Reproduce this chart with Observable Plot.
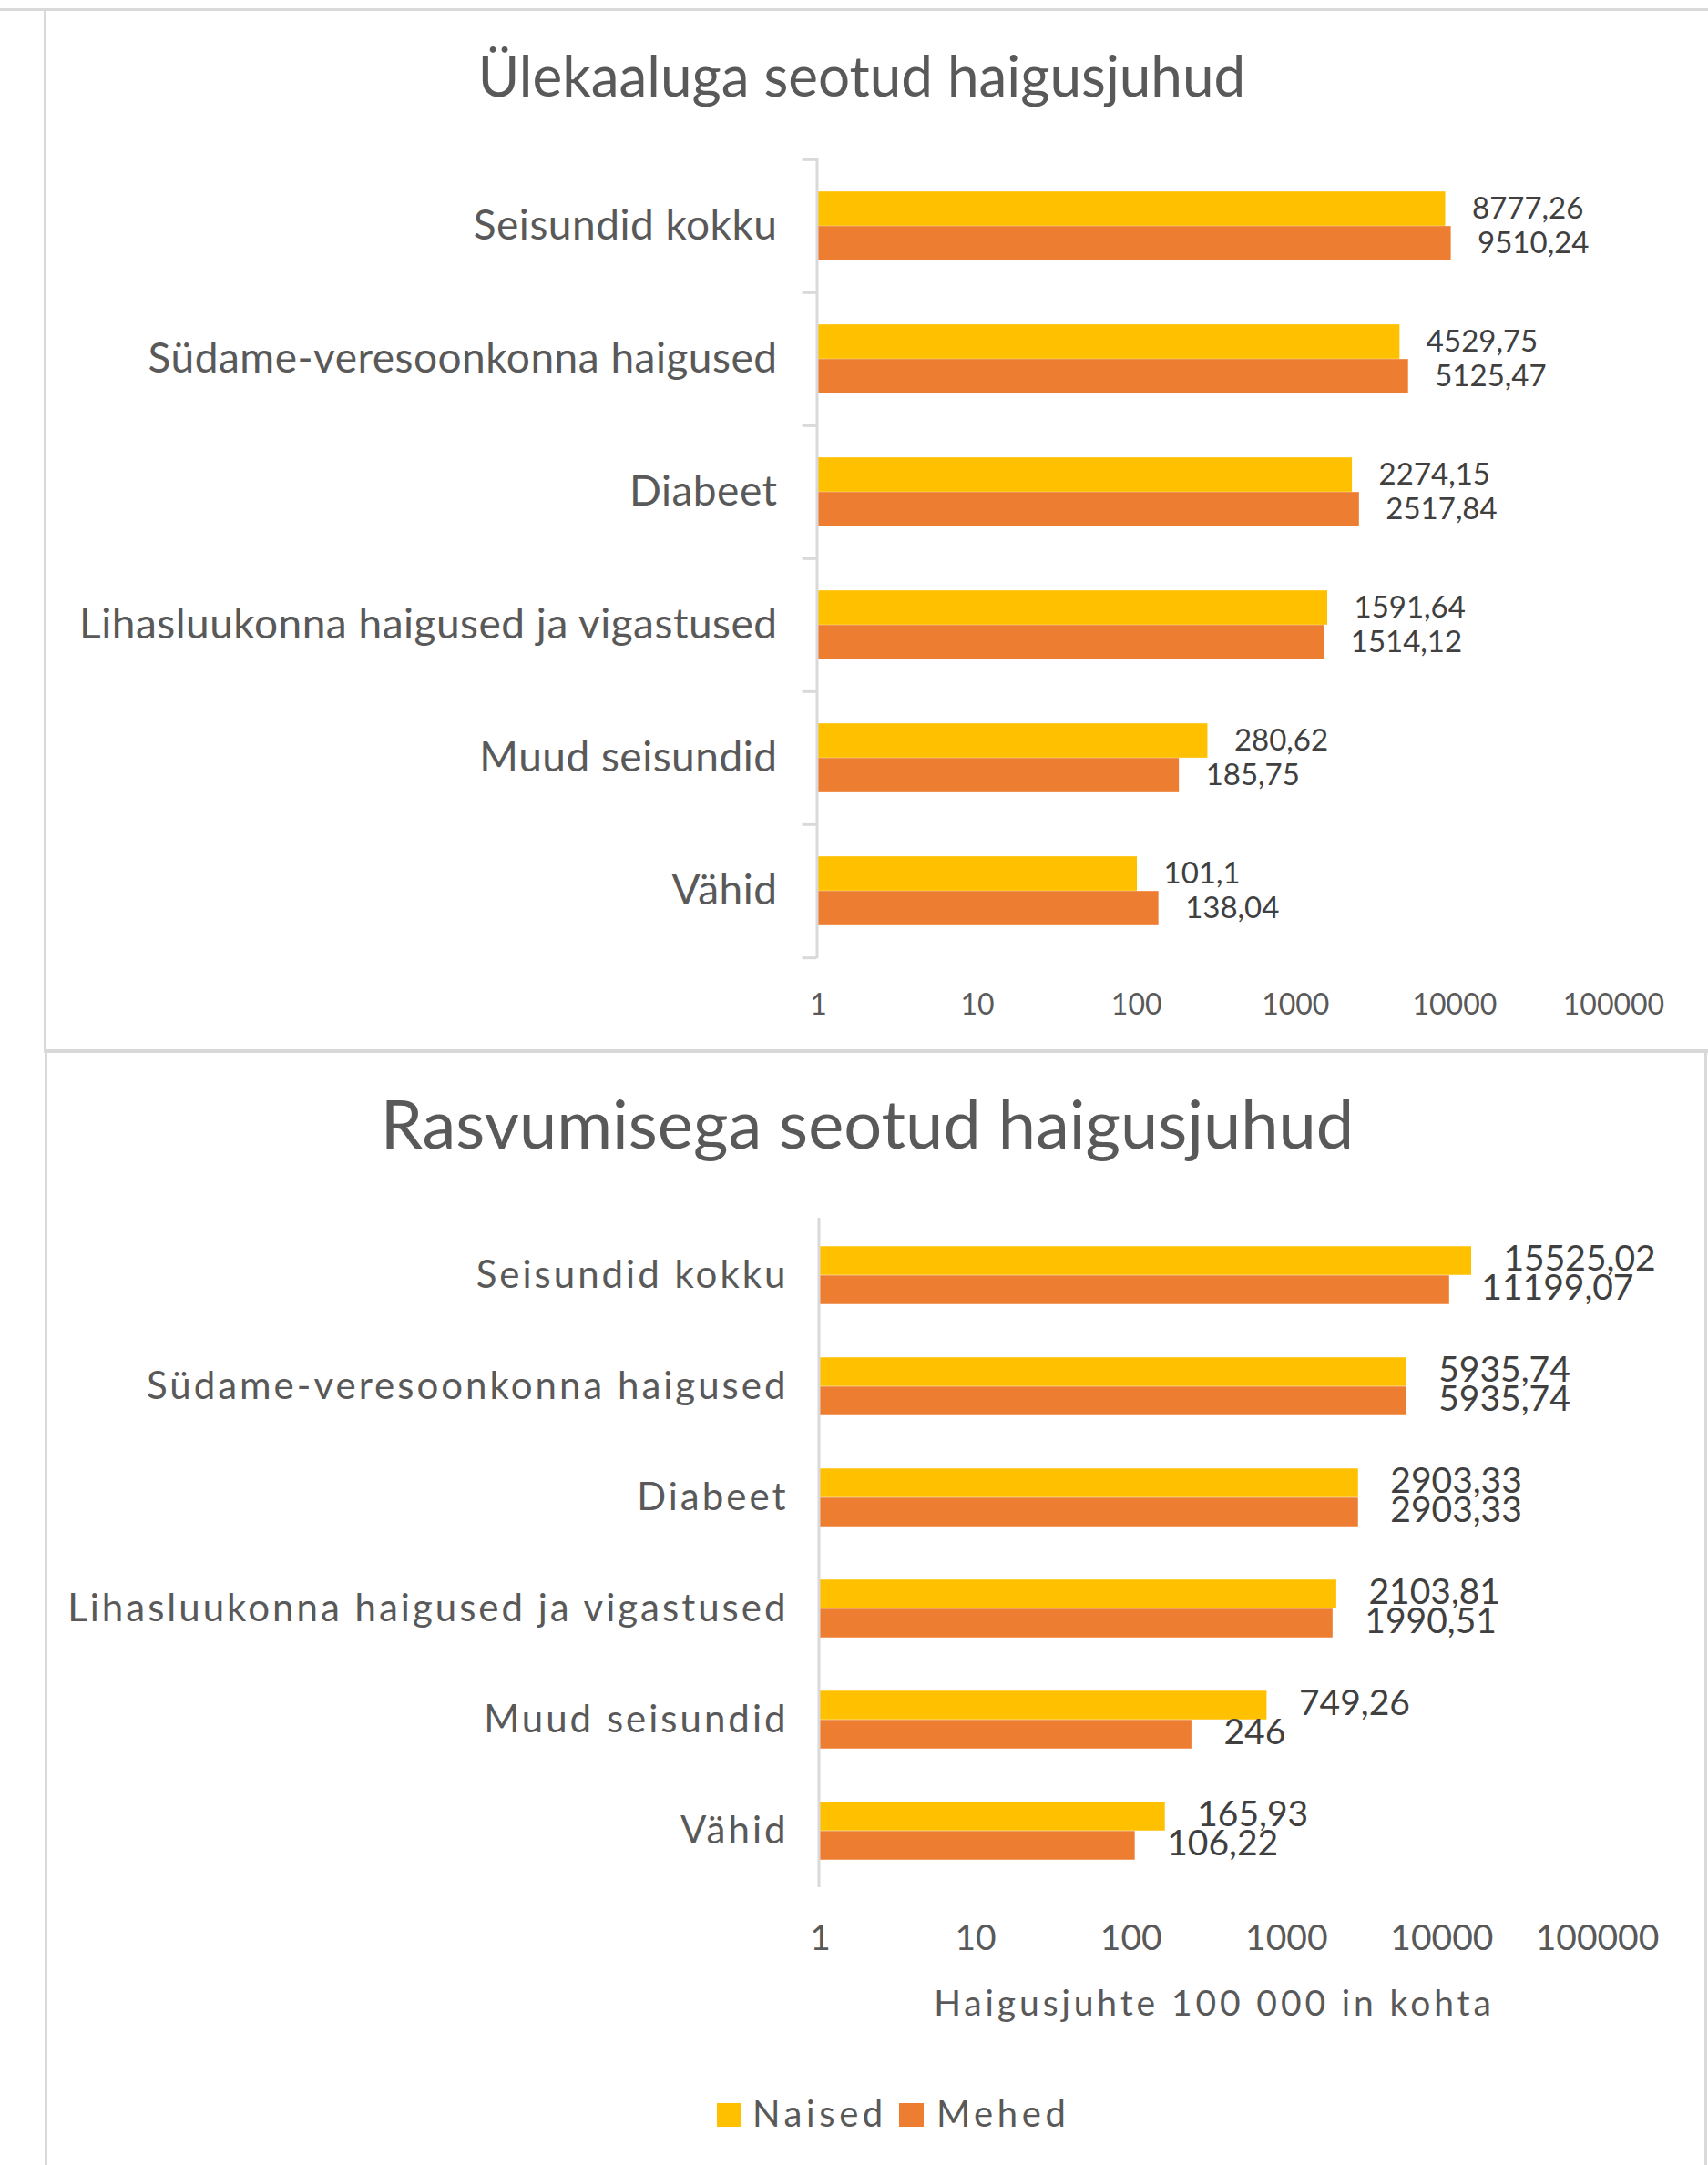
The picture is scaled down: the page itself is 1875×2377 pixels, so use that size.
<!DOCTYPE html>
<html><head><meta charset="utf-8">
<script src="https://cdn.jsdelivr.net/npm/d3@7"></script>
<script src="https://cdn.jsdelivr.net/npm/@observablehq/plot@0.6"></script>
<style>
body{margin:0;background:#fff;font-family:Lato,sans-serif;}
#page{position:relative;width:1875px;height:2377px;overflow:hidden;background:#fff;}
.line{position:absolute;background:#d9d9d9;}
.title{position:absolute;text-align:center;color:#595959;line-height:1;white-space:nowrap;}
svg.top g[aria-label="y-axis tick label"] text{letter-spacing:0.5px;}
svg.bottom g[aria-label="y-axis tick label"] text{letter-spacing:3px;}
.leg{position:absolute;color:#595959;font-size:40px;letter-spacing:4.6px;line-height:1;white-space:nowrap;}
.sw{position:absolute;width:27px;height:26px;}
</style></head><body><div id="page"></div>
<script>
// ---- data ----
const categories = ["Seisundid kokku","Südame-veresoonkonna haigused","Diabeet","Lihasluukonna haigused ja vigastused","Muud seisundid","Vähid"];
const series = ["Naised","Mehed"];
const overweightNaised = [8777.26,4529.75,2274.15,1591.64,280.62,101.1];
const overweightMehed  = [9510.24,5125.47,2517.84,1514.12,185.75,138.04];
const obesityNaised = [15525.02,5935.74,2903.33,2103.81,749.26,165.93];
const obesityMehed  = [11199.07,5935.74,2903.33,1990.51,246,106.22];
const tickValues = [1,10,100,1000,10000,100000];
const seriesColors = ["#FFC000","#ED7D31"];
const titleTop = "Ülekaaluga seotud haigusjuhud";
const titleBottom = "Rasvumisega seotud haigusjuhud";
const axisTitle = "Haigusjuhte 100 000 in kohta";

const page = document.getElementById("page");
function el(cls, css, text){const d=document.createElement("div");d.className=cls;Object.assign(d.style,css);if(text!=null)d.textContent=text;page.appendChild(d);return d;}

const fmt = v => String(v).replace(".", ",");

function makeChart(cfg){
  const rows = categories.flatMap((c,i)=>[{cat:c,sex:series[0],v:cfg.n[i]},{cat:c,sex:series[1],v:cfg.m[i]}]);
  const plotH = cfg.height - cfg.marginTop - cfg.marginBottom;
  const bw = plotH / categories.length;
  const barH = cfg.barH;
  const gap = (bw - 2*barH)/2;
  const marks = [
    Plot.barX(rows.filter(d=>d.sex===series[0]), {x1:1, x2:"v", y:"cat", fill:"sex", insetTop:gap, insetBottom:gap+barH}),
    Plot.barX(rows.filter(d=>d.sex===series[1]), {x1:1, x2:"v", y:"cat", fill:"sex", insetTop:gap+barH, insetBottom:gap}),
    Plot.ruleX([1], {stroke:"#d9d9d9", strokeWidth:3, dx:-1.5}),
    Plot.text(rows.filter(d=>d.sex===series[0]), {x:"v", y:"cat", text:d=>fmt(d.v), textAnchor:"start", dx:cfg.labelDx, dy:-barH/2 + cfg.labelDy, fontSize:cfg.valueFont, fill:"#404040"}),
    Plot.text(rows.filter(d=>d.sex===series[1]), {x:"v", y:"cat", text:d=>fmt(d.v), textAnchor:"start", dx:cfg.labelDx, dy:barH/2 + cfg.labelDy, fontSize:cfg.valueFont, fill:"#404040"}),
    Plot.axisX({ticks:tickValues, tickFormat:d=>String(d), tickSize:0, tickPadding:cfg.xPad, fontSize:cfg.tickFont, label:null}),
    Plot.axisY({tickSize:0, tickPadding:cfg.yPad, fontSize:cfg.catFont, label:null})
  ];
  if (cfg.boundaryTicks){
    // category boundary tick marks (Excel style): a short rule left of the axis at each band edge
    const x0 = Math.pow(10, -16 / ((1875 - cfg.marginLeft - cfg.marginRight) / 5));
    marks.push(Plot.ruleY(categories, {y:d=>d, x1:x0, x2:1, dx:-1.5, dy:-bw/2, stroke:"#d9d9d9", strokeWidth:3}));
    marks.push(Plot.ruleY(categories.slice(-1), {y:d=>d, x1:x0, x2:1, dx:-1.5, dy:bw/2, stroke:"#d9d9d9", strokeWidth:3}));
  }
  const svg = Plot.plot({
    width:1875, height:cfg.height,
    marginLeft:cfg.marginLeft, marginRight:cfg.marginRight, marginTop:cfg.marginTop, marginBottom:cfg.marginBottom,
    x:{type:"log", domain:[1,100000]},
    y:{domain:categories, padding:0},
    color:{domain:series, range:seriesColors},
    style:{background:"transparent", color:"#595959", fontFamily:"Lato, sans-serif", overflow:"visible"},
    marks
  });
  svg.classList.add(cfg.cls);
  svg.style.position="absolute"; svg.style.left="0px"; svg.style.top=cfg.top+"px";
  page.appendChild(svg);
}

// panel borders
el("line",{left:"0px",top:"9px",width:"1875px",height:"3px"});
el("line",{left:"48px",top:"9px",width:"3px",height:"1146px"});
el("line",{left:"48px",top:"1152px",width:"1827px",height:"4px"});
el("line",{left:"49px",top:"1152px",width:"3px",height:"1225px"});
el("line",{left:"1871px",top:"1152px",width:"3px",height:"1225px"});

// titles
el("title",{left:"146px",width:"1600px",top:(106-0.887*62)+"px",fontSize:"62px"},titleTop);
el("title",{left:"152px",width:"1600px",top:(1262-0.887*74)+"px",fontSize:"74px"},titleBottom);

makeChart({cls:"top", top:150, height:1000, marginLeft:898, marginRight:104, marginTop:24, marginBottom:98,
  n:overweightNaised, m:overweightMehed, barH:38, labelDx:29, labelDy:0, valueFont:33, tickFont:32, xPad:39, catFont:46, yPad:45, boundaryTicks:true});
makeChart({cls:"bottom", top:1300, height:832, marginLeft:900, marginRight:122, marginTop:37, marginBottom:60,
  n:obesityNaised, m:obesityMehed, barH:32, labelDx:35, labelDy:-2, valueFont:39, tickFont:39, xPad:41, catFont:42, yPad:35, boundaryTicks:false});

// axis title
el("title",{left:"533px",width:"1600px",top:(2214-0.887*39)+"px",fontSize:"39px",letterSpacing:"3.9px"},axisTitle);

// legend
el("sw",{left:"787px",top:"2309px",background:seriesColors[0]});
el("leg",{left:"826px",top:(2335-0.887*40)+"px"},series[0]);
el("sw",{left:"987px",top:"2309px",background:seriesColors[1]});
el("leg",{left:"1028px",top:(2335-0.887*40)+"px"},series[1]);
</script></body></html>
